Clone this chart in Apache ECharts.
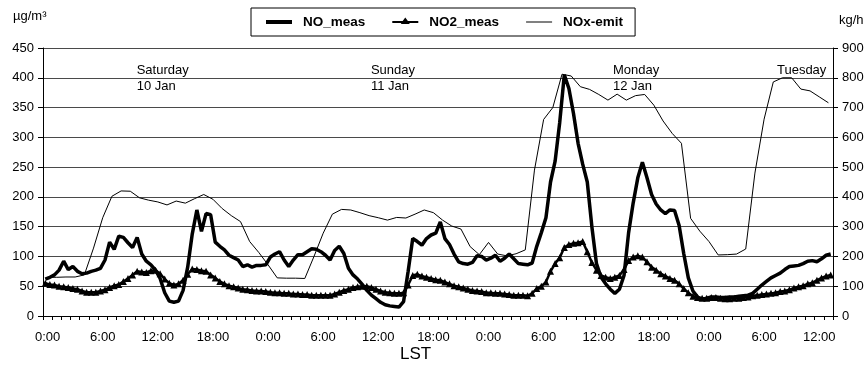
<!DOCTYPE html>
<html>
<head>
<meta charset="utf-8">
<script src="https://cdn.jsdelivr.net/npm/echarts@6/dist/echarts.min.js"></script>
<style>
  html, body { margin: 0; padding: 0; background: #fff; }
  #chart { width: 865px; height: 365px; }
</style>
</head>
<body>
<div id="chart"></div>
<script>
// Hourly categories for the time axis (Saturday 0:00 to Tuesday 13:00, local standard time)
const HOURS = 86;
const hourLabels = Array.from({ length: HOURS }, (_, i) => (i % 24) + ':00');

// Measured concentrations, µg/m³, half-hourly (first value at 0:15 Saturday)
const measStepHours = 0.5;
const measFirstHour = 0.25;
const noMeas = [
  62, 65, 69, 77, 92, 78, 83, 75, 71, 72,
  75, 77, 80, 94, 124, 112, 134, 132, 123, 115,
  132, 104, 92, 86, 77, 63, 39, 25, 23, 25,
  43, 82, 138, 178, 142, 172, 170, 124, 117, 111,
  102, 98, 94, 83, 86, 82, 85, 85, 86, 99,
  104, 108, 94, 83, 94, 103, 103, 108, 113, 112,
  108, 102, 94, 110, 117, 105, 80, 69, 62, 53,
  43, 35, 29, 23, 19, 17, 16, 15, 24, 75,
  130, 125, 119, 130, 136, 139, 158, 130, 120, 104,
  91, 88, 87, 90, 101, 100, 94, 97, 102, 92,
  97, 104, 96, 88,
  87, 86, 89, 117, 140, 165, 225, 260, 325, 405,
  382, 340, 290, 255, 225, 150, 88, 65, 54, 45,
  38, 45, 68, 140, 190, 232, 258, 232, 204, 188,
  178, 172, 178, 177, 152, 105, 64, 42, 32, 28,
  30, 32, 32, 31, 31, 32, 32, 33, 34, 35,
  38, 45, 52, 58, 64, 68, 72, 78, 83, 84,
  85, 88, 92, 93, 91, 96, 102, 104
];
const no2Meas = [
  55, 53, 52, 50, 49, 48, 46, 45, 42, 40,
  40, 40, 42, 44, 48, 51, 53, 58, 63, 69,
  75, 74, 73, 76, 77, 71, 62, 55, 52, 54,
  60, 70, 79, 78, 76, 75, 69, 64, 58, 54,
  51, 49, 47, 45, 44, 43, 42, 42, 41, 40,
  39, 39, 38, 38, 37, 37, 36, 36, 35, 35,
  35, 35, 35, 37, 40, 43, 45, 48, 49, 50,
  50, 48, 45, 42, 40, 39, 38, 38, 39, 52,
  68, 70, 67, 65, 63, 61, 60, 57, 54, 51,
  49, 47, 45, 43, 42, 41, 39, 39, 38, 38,
  37, 36, 35, 35,
  35, 34, 38, 46, 50, 57, 75, 88, 98, 115,
  120, 122, 123, 125, 108, 90, 77, 68, 65, 63,
  65, 68, 78, 93, 99, 101, 99, 91, 82, 77,
  71, 67, 63, 60, 54, 46, 39, 33, 31, 30,
  30, 31, 31, 30, 29, 29, 30, 30, 31, 32,
  34, 35, 36, 37, 38, 39, 41, 42, 44, 47,
  49, 51, 54, 56, 60, 64, 67, 69
];

// Hourly NOx emission, kg/h
const noxEmit = [
  130, 130, 131, 131, 138, 228, 330, 402, 420, 419,
  397, 389, 383, 373, 386, 379, 394, 408, 392, 361,
  337, 317, 250, 213, 172, 128, 127, 127, 126, 200,
  278, 342, 358, 356, 347, 337, 330, 322, 331, 329,
  342, 356, 347, 322, 302, 292, 233, 206, 247, 208,
  202, 209, 222, 490, 660, 700, 812, 806, 770, 761,
  744, 725, 745, 725, 740, 744, 708, 655, 613, 580,
  328, 285, 250, 205, 206, 208, 225, 480, 661, 786,
  800, 800, 762, 756, 736, 716
];

// Day annotations and the hour at which each starts
const dayNames = ['Saturday', 'Sunday', 'Monday', 'Tuesday'];
const dayDates = ['10 Jan', '11 Jan', '12 Jan', ''];
const dayLabelHours = [10.2, 35.7, 62.05, 79.9];
const dayLabelLevel = 425;

const FONT = '"Liberation Sans", Arial, Helvetica, sans-serif';

// Legend keys drawn as paths inside a 26x14 box (the leading moves pin the box size)
const ICON_BOX = 'M0,0 M26,14 ';
const iconThick = 'path://' + ICON_BOX + 'M0,5 L26,5 L26,9 L0,9 Z';
const iconThin = 'path://' + ICON_BOX + 'M0,6.5 L26,6.5 L26,7.5 L0,7.5 Z';
const iconTriangleLine = 'path://' + ICON_BOX +
  'M0,6 L10.4,6 L13,2.5 L15.6,6 L26,6 L26,8 L16.8,8 L17.5,9 L8.5,9 L9.2,8 L0,8 Z';

const toPairs = arr => arr.map((v, k) => [measFirstHour + k * measStepHours, v]);

const chart = echarts.init(document.getElementById('chart'), null, { renderer: 'canvas' });

chart.setOption({
  animation: false,
  backgroundColor: '#fff',
  textStyle: { fontFamily: FONT, color: '#000' },
  grid: { left: 43, right: 32, top: 48, bottom: 49, containLabel: false, outerBoundsMode: 'none' },
  legend: {
    left: 251,
    top: 8,
    padding: [7, 12, 7, 15],
    borderColor: '#000',
    borderWidth: 1,
    borderRadius: 0,
    itemWidth: 26,
    itemHeight: 14,
    itemGap: 27,
    symbolKeepAspect: true,
    textStyle: { fontFamily: FONT, fontWeight: 'bold', fontSize: 13.5, color: '#000', padding: [0, 0, 0, 6] },
    data: [
      { name: 'NO_meas', icon: iconThick },
      { name: 'NO2_meas', icon: iconTriangleLine },
      { name: 'NOx-emit', icon: iconThin }
    ]
  },
  xAxis: [
    {
      type: 'category',
      data: hourLabels,
      boundaryGap: true,
      axisLine: { lineStyle: { color: '#000', width: 1 } },
      axisTick: { show: true, interval: 0, length: 4, lineStyle: { color: '#000' } },
      axisLabel: { interval: 5, fontFamily: FONT, fontSize: 13, color: '#000', margin: 15 },
      splitLine: { show: false }
    },
    {
      type: 'value',
      min: 0,
      max: HOURS,
      show: false,
      splitLine: { show: false }
    }
  ],
  yAxis: [
    {
      type: 'value',
      min: 0,
      max: 450,
      interval: 50,
      axisLine: { show: true, lineStyle: { color: '#000' } },
      axisTick: { show: true, length: 5, lineStyle: { color: '#000' } },
      axisLabel: { fontFamily: FONT, fontSize: 13, color: '#000', margin: 9 },
      splitLine: { show: true, lineStyle: { color: '#4a4a4a', width: 1 } }
    },
    {
      type: 'value',
      position: 'right',
      min: 0,
      max: 900,
      interval: 100,
      axisLine: { show: true, lineStyle: { color: '#000' } },
      axisTick: { show: true, length: 5, lineStyle: { color: '#000' } },
      axisLabel: { fontFamily: FONT, fontSize: 13, color: '#000', margin: 9 },
      splitLine: { show: false }
    }
  ],
  series: [
    {
      name: 'NO_meas',
      type: 'line',
      xAxisIndex: 1,
      yAxisIndex: 0,
      data: toPairs(noMeas),
      symbol: 'none',
      lineStyle: { color: '#000', width: 3.5 },
      itemStyle: { color: '#000' },
      z: 4,
      markPoint: {
        silent: true,
        symbol: 'circle',
        symbolSize: 0,
        itemStyle: { color: 'rgba(0,0,0,0)' },
        label: {
          show: true,
          position: 'inside',
          align: 'left',
          verticalAlign: 'top',
          fontFamily: FONT,
          fontSize: 13,
          lineHeight: 16,
          color: '#000',
          formatter: p => p.name
        },
        data: dayNames.map((d, i) => ({
          name: dayDates[i] ? d + '\n' + dayDates[i] : d,
          coord: [dayLabelHours[i], dayLabelLevel]
        }))
      }
    },
    {
      name: 'NO2_meas',
      type: 'line',
      xAxisIndex: 1,
      yAxisIndex: 0,
      data: toPairs(no2Meas),
      symbol: 'triangle',
      symbolSize: 7,
      showAllSymbol: true,
      lineStyle: { color: '#000', width: 2.5 },
      itemStyle: { color: '#000', borderWidth: 0 },
      z: 3
    },
    {
      name: 'NOx-emit',
      type: 'line',
      xAxisIndex: 0,
      yAxisIndex: 1,
      data: noxEmit,
      symbol: 'none',
      lineStyle: { color: '#000', width: 1 },
      itemStyle: { color: '#000' },
      z: 2
    }
  ],
  graphic: [
    { type: 'text', left: 13, top: 10, style: { text: 'µg/m³', font: '13px ' + FONT, fill: '#000' } },
    { type: 'text', left: 839, top: 14, style: { text: 'kg/h', font: '13px ' + FONT, fill: '#000' } },
    { type: 'text', left: 400, top: 346, style: { text: 'LST', font: '17px ' + FONT, fill: '#000' } }
  ]
});
</script>
</body>
</html>
